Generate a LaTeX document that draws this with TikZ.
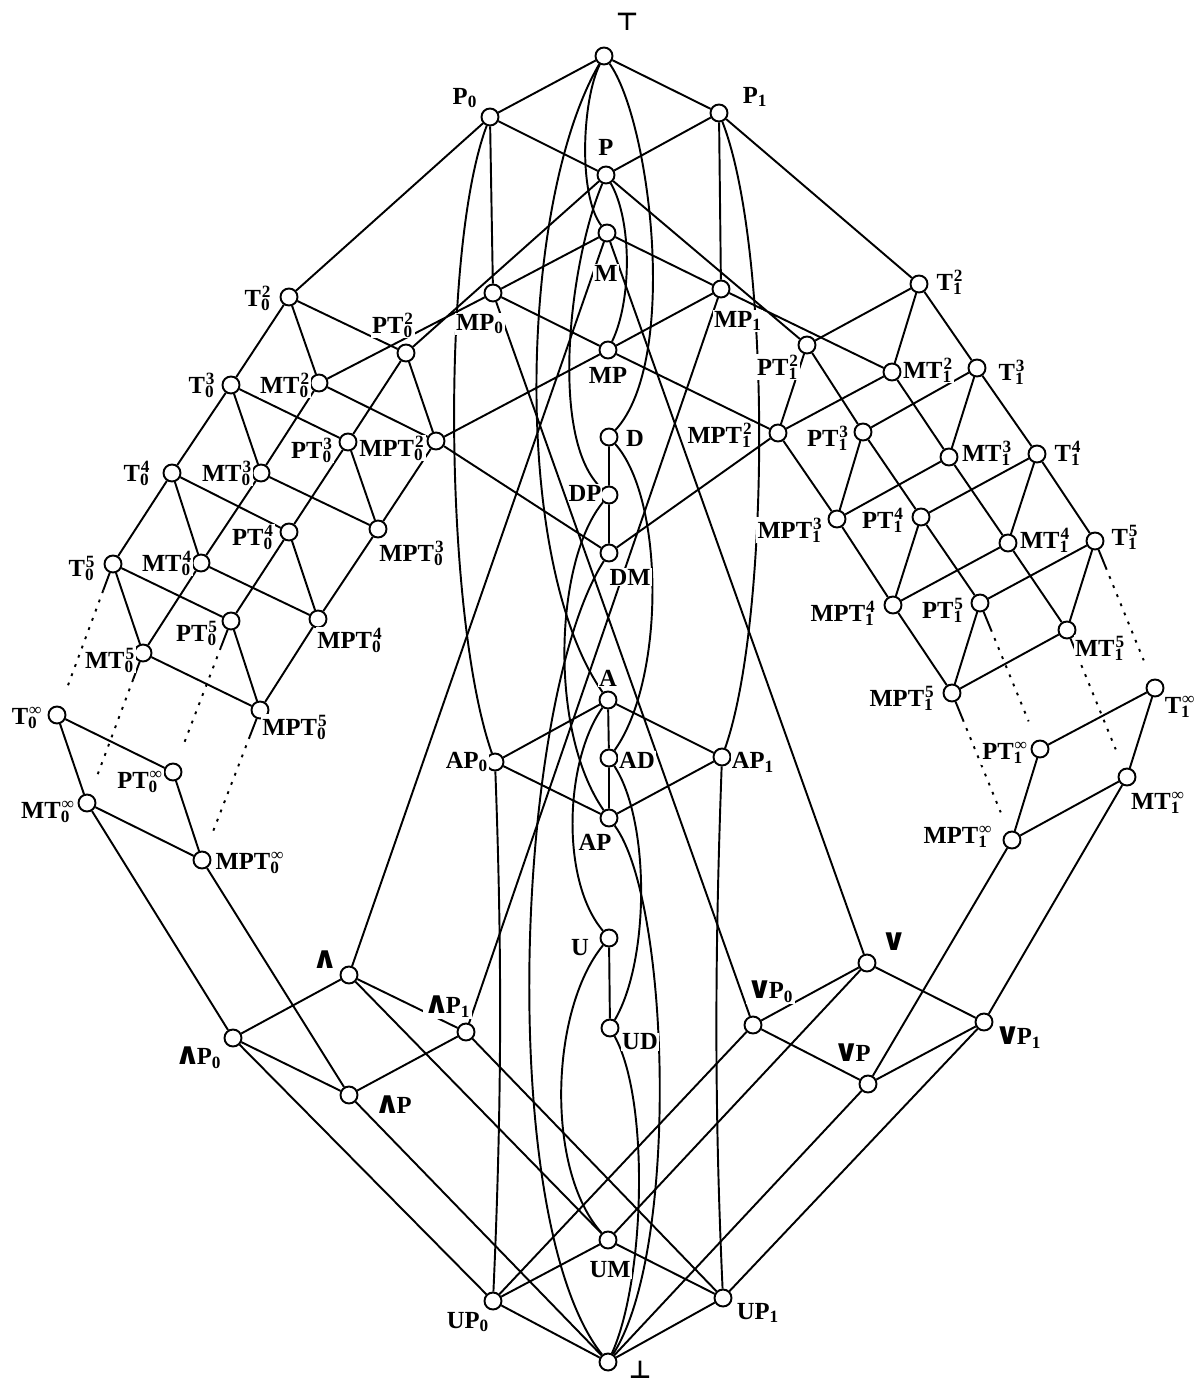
\documentclass[tikz,border=0pt]{standalone}
\usepackage{fontspec}
\usepackage{graphicx}
\setmainfont{Liberation Serif}
\newfontfamily\symfnt{DejaVu Sans}
\usetikzlibrary{calc}
\pgfdeclarelayer{bg}
\pgfsetlayers{bg,main}
\newcommand\sbsp[2]{\textsubscript{\rlap{#1}}\textsuperscript{#2}}
\newcommand\wdg{\resizebox{1.05em}{0.72em}{\symfnt\bfseries ∧}\kern-0.14em}
\newcommand\vsym{\resizebox{1.05em}{0.72em}{\symfnt\bfseries ∨}\kern-0.14em}
\newcommand\dotcon[3]{%
  \coordinate (#3s) at ($(#1)!16pt!(#2)$);
  \coordinate (#3e) at ($(#2)!17pt!(#1)$);
  \draw[edge] (#1) -- (#3s);
  \draw[dots] (#3s) -- (#3e);}
\begin{document}
\begin{tikzpicture}[x=0.02cm,y=-0.02cm,
  v/.style={circle,draw,fill=white,line width=1.1pt,inner sep=0pt,minimum size=0.34cm},
  lab/.style={font=\fontsize{14}{15}\selectfont\bfseries,inner sep=0.6pt,fill=white},
  edge/.style={line width=1.1pt},
  dots/.style={line width=1.1pt,dash pattern=on 1.6pt off 4pt}]
\useasboundingbox (0,0) rectangle (1200,1383);
% ---------- vertices ----------
\node[v] (top) at (604,56) {};
\node[v] (P0) at (490,117) {};
\node[v] (P1) at (719,113) {};
\node[v] (P) at (606,175) {};
\node[v] (M) at (607,233) {};
\node[v] (MP0) at (493,293) {};
\node[v] (MP1) at (721,289) {};
\node[v] (MP) at (608,350) {};
\node[v] (D) at (609,437) {};
\node[v] (DP) at (609,495) {};
\node[v] (DM) at (609,553) {};
\node[v] (A) at (608,700) {};
\node[v] (AP0) at (495,762) {};
\node[v] (AD) at (609,758) {};
\node[v] (AP1) at (722,757) {};
\node[v] (AP) at (609,818) {};
\node[v] (U) at (609,938) {};
\node[v] (UD) at (610,1028) {};
\node[v] (UM) at (608,1240) {};
\node[v] (UP0) at (493,1301) {};
\node[v] (UP1) at (723,1298) {};
\node[v] (bot) at (608,1362) {};
\node[v] (Wd) at (349,975) {};
\node[v] (WP0) at (233,1038) {};
\node[v] (WP1) at (466,1032) {};
\node[v] (WP) at (349,1095) {};
\node[v] (V) at (867,963) {};
\node[v] (VP0) at (753,1025) {};
\node[v] (VP1) at (984,1022) {};
\node[v] (VP) at (868,1084) {};
% left family
\node[v] (T02) at (289,297) {};
\node[v] (PT02) at (406,353) {};
\node[v] (MT02) at (319,383) {};
\node[v] (T03) at (231,385) {};
\node[v] (MPT02) at (436,441) {};
\node[v] (PT03) at (348,442) {};
\node[v] (MT03) at (261,473) {};
\node[v] (T04) at (172,473) {};
\node[v] (MPT03) at (378,529) {};
\node[v] (PT04) at (289,532) {};
\node[v] (MT04) at (201,563) {};
\node[v] (T05) at (113,564) {};
\node[v] (MPT04) at (318,619) {};
\node[v] (PT05) at (231,621) {};
\node[v] (MT05) at (143,653) {};
\node[v] (MPT05) at (260,710) {};
\node[v] (T0i) at (57,715) {};
\node[v] (PT0i) at (173,772) {};
\node[v] (MT0i) at (87,803) {};
\node[v] (MPT0i) at (202,860) {};
% right family
\node[v] (T12) at (919,284) {};
\node[v] (PT12) at (807,345) {};
\node[v] (MT12) at (892,372) {};
\node[v] (T13) at (977,368) {};
\node[v] (MPT12) at (778,433) {};
\node[v] (PT13) at (863,432) {};
\node[v] (MT13) at (949,457) {};
\node[v] (T14) at (1037,454) {};
\node[v] (MPT13) at (837,519) {};
\node[v] (PT14) at (921,517) {};
\node[v] (MT14) at (1008,543) {};
\node[v] (T15) at (1095,541) {};
\node[v] (MPT14) at (893,605) {};
\node[v] (PT15) at (980,603) {};
\node[v] (MT15) at (1067,630) {};
\node[v] (MPT15) at (952,693) {};
\node[v] (T1i) at (1155,688) {};
\node[v] (PT1i) at (1040,749) {};
\node[v] (MT1i) at (1127,777) {};
\node[v] (MPT1i) at (1012,840) {};
% ---------- edges ----------
\begin{pgfonlayer}{bg}
\draw[edge] (top)--(P0) (top)--(P1)
 (P0)--(P) (P0)--(MP0) (P0)--(T02)
 (P1)--(P) (P1)--(MP1) (P1)--(T12)
 (P)--(PT02) (P)--(PT12)
 (M)--(MP0) (M)--(MP1) (M)--(Wd) (M)--(V)
 (MP0)--(MP) (MP0)--(MT02) (MP0)--(VP0)
 (MP1)--(MP) (MP1)--(MT12) (MP1)--(WP1)
 (MP)--(MPT02) (MP)--(MPT12)
 (D)--(DP) (DP)--(DM) (MPT02)--(DM) (MPT12)--(DM)
 (A)--(AP0) (A)--(AD) (A)--(AP1) (AP0)--(AP) (AD)--(AP) (AP1)--(AP)
 (U)--(UD)
 (Wd)--(WP0) (Wd)--(WP1) (Wd)--(UM) (WP0)--(WP) (WP0)--(UP0) (WP1)--(WP) (WP1)--(UP1) (WP)--(bot)
 (V)--(VP0) (V)--(VP1) (V)--(UM) (VP0)--(VP) (VP0)--(UP0) (VP1)--(VP) (VP1)--(UP1) (VP)--(bot)
 (UM)--(UP0) (UM)--(UP1) (UP0)--(bot) (UP1)--(bot)
 (MT0i)--(WP0) (MPT0i)--(WP) (MT1i)--(VP1) (MPT1i)--(VP);
% left family
\draw[edge] (T02)--(T03) (T02)--(MT02) (T02)--(PT02)
 (PT02)--(PT03) (PT02)--(MPT02)
 (MT02)--(MT03) (MT02)--(MPT02)
 (T03)--(T04) (T03)--(MT03) (T03)--(PT03)
 (MPT02)--(MPT03)
 (PT03)--(PT04) (PT03)--(MPT03)
 (MT03)--(MT04) (MT03)--(MPT03)
 (T04)--(T05) (T04)--(MT04) (T04)--(PT04)
 (MPT03)--(MPT04)
 (PT04)--(PT05) (PT04)--(MPT04)
 (MT04)--(MT05) (MT04)--(MPT04)
 (T05)--(MT05) (T05)--(PT05)
 (MPT04)--(MPT05) (PT05)--(MPT05) (MT05)--(MPT05)
 (T0i)--(PT0i) (T0i)--(MT0i) (PT0i)--(MPT0i) (MT0i)--(MPT0i);
% right family
\draw[edge] (T12)--(T13) (T12)--(MT12) (T12)--(PT12)
 (PT12)--(PT13) (PT12)--(MPT12)
 (MT12)--(MT13) (MT12)--(MPT12)
 (T13)--(T14) (T13)--(MT13) (T13)--(PT13)
 (MPT12)--(MPT13)
 (PT13)--(PT14) (PT13)--(MPT13)
 (MT13)--(MT14) (MT13)--(MPT13)
 (T14)--(T15) (T14)--(MT14) (T14)--(PT14)
 (MPT13)--(MPT14)
 (PT14)--(PT15) (PT14)--(MPT14)
 (MT14)--(MT15) (MT14)--(MPT14)
 (T15)--(MT15) (T15)--(PT15)
 (MPT14)--(MPT15) (PT15)--(MPT15) (MT15)--(MPT15)
 (T1i)--(PT1i) (T1i)--(MT1i) (PT1i)--(MPT1i) (MT1i)--(MPT1i);
% curved edges
\draw[edge] (top) .. controls (582,100) and (578,195) .. (M);
\draw[edge] (top) .. controls (650,120) and (680,360) .. (D);
\draw[edge] (top) .. controls (520,200) and (510,560) .. (A);
\draw[edge] (P0) .. controls (440,250) and (445,620) .. (AP0);
\draw[edge] (P1) .. controls (772,250) and (770,620) .. (AP1);
\draw[edge] (P) .. controls (632,220) and (632,300) .. (MP);
\draw[edge] (P) .. controls (570,260) and (548,440) .. (DP);
\draw[edge] (D) .. controls (665,500) and (665,680) .. (AD);
\draw[edge] (DP) .. controls (555,560) and (548,730) .. (AP);
\draw[edge] (DM) .. controls (515,700) and (495,1220) .. (bot);
\draw[edge] (A) .. controls (565,760) and (560,880) .. (U);
\draw[edge] (AD) .. controls (650,820) and (650,960) .. (UD);
\draw[edge] (AP) .. controls (670,900) and (680,1250) .. (bot);
\draw[edge] (U) .. controls (550,1010) and (545,1170) .. (UM);
\draw[edge] (UD) .. controls (650,1100) and (645,1280) .. (bot);
\draw[edge] (AP0) .. controls (502,950) and (502,1100) .. (UP0);
\draw[edge] (AP1) .. controls (715,950) and (714,1100) .. (UP1);
% dotted continuations
\dotcon{T05}{T0i}{da}
\dotcon{MT05}{MT0i}{db}
\dotcon{PT05}{PT0i}{dc}
\dotcon{MPT05}{MPT0i}{dd}
\dotcon{T15}{T1i}{de}
\dotcon{MT15}{MT1i}{df}
\dotcon{PT15}{PT1i}{dg}
\dotcon{MPT15}{MPT1i}{dh}
\end{pgfonlayer}
% ---------- labels ----------
\node[lab] (ltop) at (627,22) {{\symfnt\bfseries ⊤}};
\node[lab] (lP0) at (465,98) {P\textsubscript{0}};
\node[lab] (lP1) at (755,97) {P\textsubscript{1}};
\node[lab] (lP) at (606,147) {P};
\node[lab] (lM) at (606,273) {M};
\node[lab] (lMP0) at (480,324) {MP\textsubscript{0}};
\node[lab] (lMP1) at (738,321) {MP\textsubscript{1}};
\node[lab] (lMP) at (608,375) {MP};
\node[lab] (lD) at (635,438) {D};
\node[lab] (lDP) at (585,493) {DP};
\node[lab] (lDM) at (630,577) {DM};
\node[lab] (lA) at (608,678) {A};
\node[lab] (lAP0) at (467,762) {AP\textsubscript{0}};
\node[lab] (lAD) at (637,760) {AD};
\node[lab] (lAP1) at (753,762) {AP\textsubscript{1}};
\node[lab] (lAP) at (595,842) {AP};
\node[lab] (lU) at (580,948) {U};
\node[lab] (lUD) at (640,1042) {UD};
\node[lab] (lUM) at (610,1270) {UM};
\node[lab] (lUP0) at (468,1322) {UP\textsubscript{0}};
\node[lab] (lUP1) at (758,1313) {UP\textsubscript{1}};
\node[lab] (lbot) at (640,1370) {{\symfnt\bfseries ⊥}};
\node[lab] (lWd) at (323,960) {\wdg};
\node[lab] (lWP0) at (198,1058) {\wdg P\textsubscript{0}};
\node[lab] (lWP1) at (447,1007) {\wdg P\textsubscript{1}};
\node[lab] (lWP) at (393,1105) {\wdg P};
\node[lab] (lV) at (892,942) {\vsym};
\node[lab] (lVP0) at (770,992) {\vsym P\textsubscript{0}};
\node[lab] (lVP1) at (1018,1038) {\vsym P\textsubscript{1}};
\node[lab] (lVP) at (852,1053) {\vsym P};
% left family labels
\node[lab] (lT02) at (258,298) {T\sbsp{0}{2}};
\node[lab] (lPT02) at (393,325) {PT\sbsp{0}{2}};
\node[lab] (lMT02) at (285,385) {MT\sbsp{0}{2}};
\node[lab] (lT03) at (202,385) {T\sbsp{0}{3}};
\node[lab] (lPT03) at (312,450) {PT\sbsp{0}{3}};
\node[lab] (lMPT02) at (392,448) {MPT\sbsp{0}{2}};
\node[lab] (lMT03) at (227,473) {MT\sbsp{0}{3}};
\node[lab] (lT04) at (137,473) {T\sbsp{0}{4}};
\node[lab] (lPT04) at (253,537) {PT\sbsp{0}{4}};
\node[lab] (lMPT03) at (412,553) {MPT\sbsp{0}{3}};
\node[lab] (lMT04) at (167,563) {MT\sbsp{0}{4}};
\node[lab] (lT05) at (82,568) {T\sbsp{0}{5}};
\node[lab] (lPT05) at (197,633) {PT\sbsp{0}{5}};
\node[lab] (lMPT04) at (350,640) {MPT\sbsp{0}{4}};
\node[lab] (lMT05) at (110,660) {MT\sbsp{0}{5}};
\node[lab] (lMPT05) at (295,727) {MPT\sbsp{0}{5}};
\node[lab] (lT0i) at (27,718) {T\sbsp{0}{∞}};
\node[lab] (lPT0i) at (140,782) {PT\sbsp{0}{∞}};
\node[lab] (lMT0i) at (48,812) {MT\sbsp{0}{∞}};
\node[lab] (lMPT0i) at (250,863) {MPT\sbsp{0}{∞}};
% right family labels
\node[lab] (lT12) at (950,282) {T\sbsp{1}{2}};
\node[lab] (lPT12) at (778,367) {PT\sbsp{1}{2}};
\node[lab] (lMT12) at (928,370) {MT\sbsp{1}{2}};
\node[lab] (lT13) at (1012,372) {T\sbsp{1}{3}};
\node[lab] (lMPT12) at (720,435) {MPT\sbsp{1}{2}};
\node[lab] (lPT13) at (828,438) {PT\sbsp{1}{3}};
\node[lab] (lMT13) at (987,453) {MT\sbsp{1}{3}};
\node[lab] (lT14) at (1068,453) {T\sbsp{1}{4}};
\node[lab] (lMPT13) at (790,530) {MPT\sbsp{1}{3}};
\node[lab] (lPT14) at (883,520) {PT\sbsp{1}{4}};
\node[lab] (lMT14) at (1045,540) {MT\sbsp{1}{4}};
\node[lab] (lT15) at (1125,537) {T\sbsp{1}{5}};
\node[lab] (lMPT14) at (843,613) {MPT\sbsp{1}{4}};
\node[lab] (lPT15) at (943,610) {PT\sbsp{1}{5}};
\node[lab] (lMT15) at (1100,648) {MT\sbsp{1}{5}};
\node[lab] (lMPT15) at (902,698) {MPT\sbsp{1}{5}};
\node[lab] (lT1i) at (1180,707) {T\sbsp{1}{∞}};
\node[lab] (lPT1i) at (1005,753) {PT\sbsp{1}{∞}};
\node[lab] (lMT1i) at (1158,803) {MT\sbsp{1}{∞}};
\node[lab] (lMPT1i) at (958,837) {MPT\sbsp{1}{∞}};
\end{tikzpicture}
\end{document}
